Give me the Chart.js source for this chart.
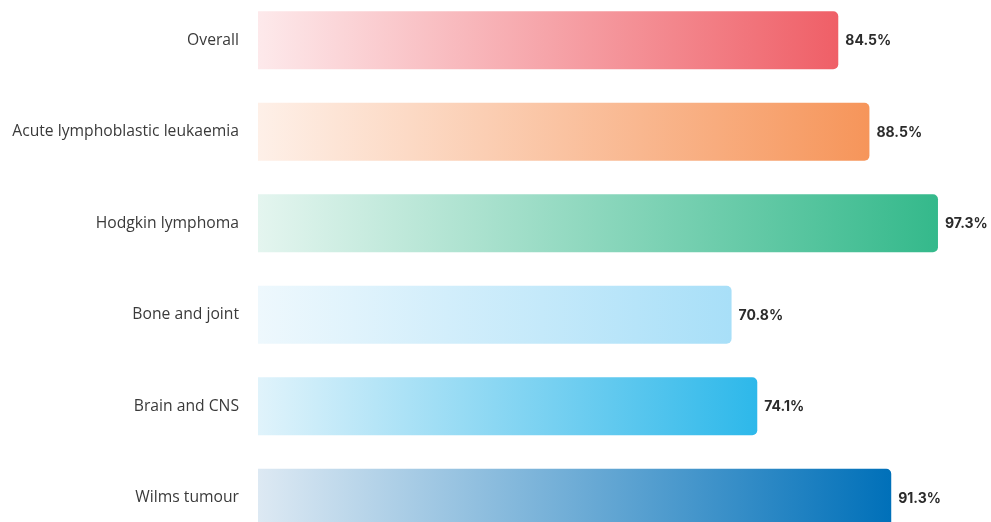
<!DOCTYPE html>
<html>
<head>
<meta charset="utf-8">
<script src="https://cdn.jsdelivr.net/npm/chart.js@4.4.0/dist/chart.umd.min.js"></script>
<style>
  html, body { margin: 0; padding: 0; background: #ffffff; overflow: hidden; width: 991px; height: 522px; }
  #c { position: absolute; left: 0; top: -34px; }
</style>
</head>
<body>
<canvas id="c" width="991" height="606"></canvas>
<script>
const categories = ["Overall", "Acute lymphoblastic leukaemia", "Hodgkin lymphoma", "Bone and joint", "Brain and CNS", "Wilms tumour"];
const survival = [84.5, 88.5, 97.3, 70.8, 74.1, 91.3];
const valueLabels = ["84.5%", "88.5%", "97.3%", "70.8%", "74.1%", "91.3%"];
const startColors = ["#fde9eb", "#fef0e8", "#e4f5ef", "#eef8fd", "#e0f3fb", "#dde9f3"];
const endColors = ["#ef5f67", "#f6955a", "#34b98b", "#a8dff8", "#2db8ea", "#0070b9"];

const AXIS_MIN = 10, AXIS_MAX = 100;

function barGradient(ctx) {
  const chart = ctx.chart;
  if (!chart.chartArea) return endColors[ctx.dataIndex];
  const xs = chart.scales.x;
  const x0 = xs.getPixelForValue(AXIS_MIN);
  const x1 = xs.getPixelForValue(survival[ctx.dataIndex]);
  const g = chart.ctx.createLinearGradient(x0, 0, x1, 0);
  g.addColorStop(0, startColors[ctx.dataIndex]);
  g.addColorStop(1, endColors[ctx.dataIndex]);
  return g;
}

const valueLabelPlugin = {
  id: 'valueLabels',
  afterDatasetsDraw(chart) {
    const c = chart.ctx;
    const meta = chart.getDatasetMeta(0);
    c.save();
    c.font = "700 14px Inter, 'Open Sans', sans-serif";
    c.fillStyle = "#2b2b2b";
    c.textBaseline = "middle";
    c.textAlign = "left";
    meta.data.forEach((bar, i) => {
      c.fillText(valueLabels[i], bar.x + 7, bar.y + 1);
    });
    c.restore();
  }
};

new Chart(document.getElementById('c'), {
  type: 'bar',
  data: {
    labels: categories,
    datasets: [{
      data: survival,
      backgroundColor: barGradient,
      borderRadius: 5,
      borderSkipped: 'start',
      barPercentage: 0.634,
      categoryPercentage: 1.0
    }]
  },
  options: {
    indexAxis: 'y',
    responsive: false,
    maintainAspectRatio: false,
    animation: false,
    layout: { padding: { left: 0, right: 32, top: 0, bottom: 0 } },
    plugins: { legend: { display: false }, tooltip: { enabled: false } },
    scales: {
      x: {
        min: AXIS_MIN, max: AXIS_MAX,
        display: false,
        grid: { display: false }
      },
      y: {
        grid: { display: false, drawTicks: false },
        border: { display: false },
        afterFit(scale) { scale.width = 258; },
        ticks: {
          padding: 19,
          color: "#3a3a3a",
          font: { family: "'Open Sans', sans-serif", size: 15.7 }
        }
      }
    }
  },
  plugins: [valueLabelPlugin]
});
</script>
</body>
</html>
